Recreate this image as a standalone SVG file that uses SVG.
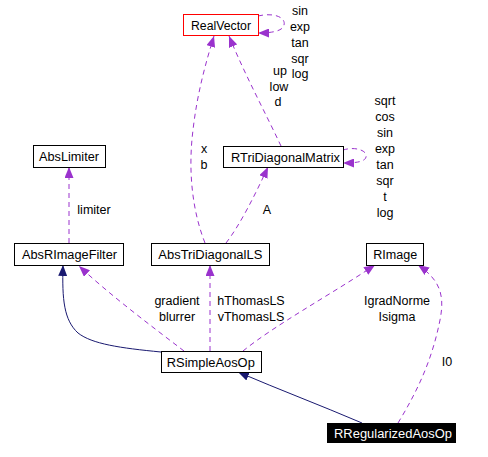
<svg xmlns="http://www.w3.org/2000/svg" width="488" height="457" viewBox="0 0 488 457">
<style>
text{font-family:"Liberation Sans",Arial,sans-serif;font-size:12.5px;fill:#000}
.lbl{text-anchor:middle}
.box{fill:#fff;stroke:#000;stroke-width:1}
.use{fill:none;stroke:#9a32cd;stroke-width:1;stroke-dasharray:5,4}
.inh{fill:none;stroke:#191970;stroke-width:1}
</style>
<defs>
<marker id="ap" markerWidth="12" markerHeight="9" refX="11" refY="4.5" orient="auto" markerUnits="userSpaceOnUse"><path d="M0,0 L11,4.5 L0,9 z" fill="#9a32cd"/></marker>
<marker id="an" markerWidth="12" markerHeight="9" refX="11" refY="4.5" orient="auto" markerUnits="userSpaceOnUse"><path d="M0,0 L11,4.5 L0,9 z" fill="#191970"/></marker>
</defs>
<rect width="488" height="457" fill="#fff"/>
<g id="connectors">
<path class="use" marker-end="url(#ap)" d="M205,243 C192,210 188,170 193,130 C197,95 205,65 214,36"/>
<path class="use" marker-end="url(#ap)" d="M281,146 C265,112 245,75 229,36"/>
<path class="use" marker-end="url(#ap)" d="M258,16 C275,12 286,18 284,25 C283,31 272,33 258,33"/>
<path class="use" marker-end="url(#ap)" d="M226,243 C240,225 255,195 268,167"/>
<path class="use" marker-end="url(#ap)" d="M343,150 C356,146 368,151 366,157 C365,162 355,163 343,163"/>
<path class="use" marker-end="url(#ap)" d="M69,243 L69,167"/>
<path class="use" marker-end="url(#ap)" d="M184,351 C150,325 110,295 79,266"/>
<path class="use" marker-end="url(#ap)" d="M210,351 L210,265"/>
<path class="use" marker-end="url(#ap)" d="M243,351 C275,325 330,295 375,265"/>
<path class="use" marker-end="url(#ap)" d="M398,423 C418,390 432,360 440,320 C445,295 440,280 418,265"/>
<path class="inh" marker-end="url(#an)" d="M161,352 C120,348 92,344 78,333 C64,320 62,300 63,265"/>
<path class="inh" marker-end="url(#an)" d="M362,423 C320,405 280,390 238,372"/>
<g id="edge-labels">
<text class="lbl" x="300" y="14.5">sin</text>
<text class="lbl" x="300" y="30.5">exp</text>
<text class="lbl" x="300" y="46.5">tan</text>
<text class="lbl" x="300" y="62.5">sqr</text>
<text class="lbl" x="300" y="78">log</text>
<text class="lbl" x="280" y="75">up</text>
<text class="lbl" x="279" y="91">low</text>
<text class="lbl" x="278" y="106">d</text>
<text class="lbl" x="204" y="153">x</text>
<text class="lbl" x="204" y="169">b</text>
<text class="lbl" x="385" y="105">sqrt</text>
<text class="lbl" x="385" y="121">cos</text>
<text class="lbl" x="385" y="137">sin</text>
<text class="lbl" x="385" y="153">exp</text>
<text class="lbl" x="385" y="169">tan</text>
<text class="lbl" x="385" y="185">sqr</text>
<text class="lbl" x="385" y="201">t</text>
<text class="lbl" x="385" y="217">log</text>
<text class="lbl" x="267" y="214">A</text>
<text class="lbl" x="94" y="214">limiter</text>
<text class="lbl" x="177" y="305">gradient</text>
<text class="lbl" x="177" y="321">blurrer</text>
<text class="lbl" x="251" y="305">hThomasLS</text>
<text class="lbl" x="251" y="321">vThomasLS</text>
<text class="lbl" x="397" y="305">IgradNorme</text>
<text class="lbl" x="397" y="321">Isigma</text>
<text class="lbl" x="447" y="366">I0</text>
</g>
</g>
<g id="RealVector"><rect class="box" x="183.5" y="14.5" width="75" height="21" style="stroke:#f00"/><text class="lbl" x="221" y="29.5" textLength="60" lengthAdjust="spacingAndGlyphs">RealVector</text></g>
<g id="RTriDiagonalMatrix"><rect class="box" x="223.5" y="146.5" width="120" height="21"/><text class="lbl" x="285.5" y="161.5" textLength="109" lengthAdjust="spacingAndGlyphs">RTriDiagonalMatrix</text></g>
<g id="AbsLimiter"><rect class="box" x="33.5" y="145.5" width="72" height="22"/><text class="lbl" x="69" y="161" textLength="60" lengthAdjust="spacingAndGlyphs">AbsLimiter</text></g>
<g id="AbsRImageFilter"><rect class="box" x="14.5" y="243.5" width="109" height="22"/><text class="lbl" x="69.5" y="259" textLength="95" lengthAdjust="spacingAndGlyphs">AbsRImageFilter</text></g>
<g id="AbsTriDiagonalLS"><rect class="box" x="151.5" y="243.5" width="118" height="22"/><text class="lbl" x="210.3" y="259" textLength="104" lengthAdjust="spacingAndGlyphs">AbsTriDiagonalLS</text></g>
<g id="RImage"><rect class="box" x="366.5" y="243.5" width="57" height="22"/><text class="lbl" x="395.3" y="259" textLength="44" lengthAdjust="spacingAndGlyphs">RImage</text></g>
<g id="RSimpleAosOp"><rect class="box" x="161.5" y="351.5" width="100" height="21"/><text class="lbl" x="210.8" y="366.5" textLength="88" lengthAdjust="spacingAndGlyphs">RSimpleAosOp</text></g>
<g id="RRegularizedAosOp"><rect x="327" y="423" width="129" height="20" fill="#000"/><text class="lbl" x="393" y="437.5" textLength="118" lengthAdjust="spacingAndGlyphs" style="fill:#fff">RRegularizedAosOp</text></g>
</svg>
